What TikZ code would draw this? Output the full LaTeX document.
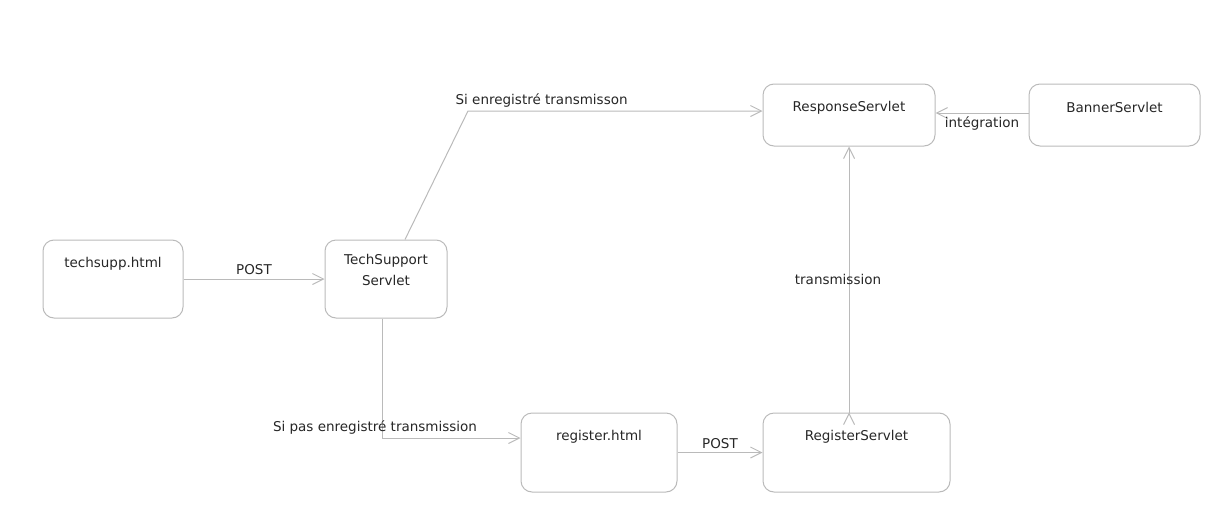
\documentclass[tikz,border=0pt]{standalone}
\usepackage{fontspec}
\setmainfont{DejaVu Sans}
\usepackage{xcolor}
\usetikzlibrary{arrows.meta}

\begin{document}
\begin{tikzpicture}[x=1pt,y=-1pt,
		every node/.style={font=\fontsize{13.5}{16}\selectfont, text=black!85},
		servlet/.style={draw=black!27, line width=1pt, rounded corners=11pt, minimum height=78pt, inner sep=0pt},
		title/.style={anchor=center, yshift=-24pt},
		flow/.style={draw=black!27, line width=1pt, -{Straight Barb[length=11pt,width=11pt]}}]
	\useasboundingbox (0,0) rectangle (1211,520);
	% les pages et les servlets
	\node[servlet, minimum width=140pt, label={[title]north:techsupp.html}] (ts) at (113,279) {};
	\node[servlet, minimum width=122pt, label={[title, yshift=-6pt, align=center, font=\fontsize{13.5}{21}\selectfont]north:TechSupport\\Servlet}] (tss) at (386,279) {};
	\node[servlet, minimum width=172pt, minimum height=62pt, label={[title]north:ResponseServlet}] (rs) at (849,115) {};
	\node[servlet, minimum width=171pt, minimum height=62pt, label={[title]north:BannerServlet}] (bs) at (1114.5,115) {};
	\node[servlet, minimum width=156pt, minimum height=79pt, label={[title]north:register.html}] (reg) at (599,452.5) {};
	\node[servlet, minimum width=187pt, minimum height=79pt, label={[title]north:RegisterServlet}] (regs) at (856.5,452.5) {};
	% transmissions
	\coordinate (k1) at (468,111);
	\path[flow]
		(ts) edge node[above] {POST} (tss)
		(reg) edge node[above] {POST} (regs)
		(bs.west |- 0,113) edge node[below] {intégration} (rs.east |- 0,113)
		(regs.north -| 849,0) edge node[xshift=-11pt] {transmission} (rs.south -| 849,0)
		;
	\draw[flow] (tss.north -| 405,0) -- (k1) -- node[above, pos=0.25] {Si enregistré transmisson} (rs.west |- k1);
	\draw[flow] (tss.south -| 382,0) |- node[pos=0.5, above, xshift=-7pt] {Si pas enregistré transmission} (reg.west |- 0,438);
\end{tikzpicture}
\end{document}
